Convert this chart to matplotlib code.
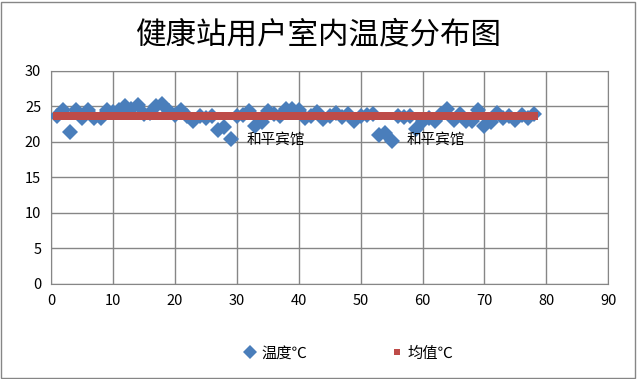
import numpy as np
import matplotlib.pyplot as plt
from matplotlib.patches import Rectangle

plt.rcParams['font.family'] = ['Noto Sans CJK SC', 'DejaVu Sans']

# temperature readings per station
station = np.arange(1, 79)
temp = [23.6, 24.5, 21.4, 24.5, 23.3, 24.5, 23.3, 23.3, 24.5, 24.2,
        24.5, 25.0, 24.6, 25.2, 23.9, 24.0, 25.1, 25.3, 24.4, 23.8,
        24.5, 23.6, 22.9, 23.6, 23.3, 23.7, 21.7, 22.1, 20.4, 23.7,
        23.8, 24.4, 22.2, 22.8, 24.4, 23.9, 23.6, 24.6, 24.6, 24.5,
        23.3, 23.6, 24.2, 23.2, 23.6, 24.0, 23.5, 23.9, 23.0, 23.6,
        23.8, 23.9, 20.9, 21.3, 20.1, 23.6, 23.5, 23.6, 21.8, 22.9,
        23.3, 23.0, 23.9, 24.7, 23.1, 23.9, 22.9, 22.9, 24.5, 22.3,
        22.8, 24.0, 23.3, 23.7, 23.1, 23.8, 23.3, 23.9]
mean_val = [23.6] * len(station)

labels = ['和平宾馆', '和平宾馆']
label_x = [31.6, 57.4]
label_y = [20.2, 20.2]

fig = plt.figure(figsize=(6.37, 3.79), dpi=100)
ax = fig.add_axes([0.080, 0.251, 0.875, 0.562])

ax.plot(station, temp, 'D', color='#4a7ebb', markersize=8, markeredgewidth=0,
        label='温度℃', zorder=3)
ax.plot(station, mean_val, 's', color='#be4b48', markersize=5.5, markeredgewidth=0,
        label='均值℃', zorder=4)

for t, x, y in zip(labels, label_x, label_y):
    ax.text(x, y, t, fontsize=10.5, va='center', ha='left', zorder=5)

ax.set_xlim(0, 90)
ax.set_ylim(0, 30)
ax.set_xticks(np.arange(0, 91, 10))
ax.set_yticks(np.arange(0, 31, 5))
ax.grid(True, color='#868686', linewidth=1)
ax.set_axisbelow(True)
for s in ax.spines.values():
    s.set_color('#868686')
ax.tick_params(length=0, labelsize=10.5, pad=7)

fig.suptitle('健康站用户室内温度分布图', fontsize=22, va='center')
fig.texts[0].set_y(1 - 35 / 379)
ax.legend(loc='center', bbox_to_anchor=(0.535, -0.325), ncol=2, frameon=False,
          fontsize=11, handletextpad=0.4, handlelength=0.7, columnspacing=5.5,
          markerscale=0.85)

fig.patches.append(Rectangle((0.002, 0.003), 0.995, 0.993, transform=fig.transFigure,
                             fill=False, edgecolor='#868686', linewidth=1))

plt.savefig('out.png', dpi=100)
